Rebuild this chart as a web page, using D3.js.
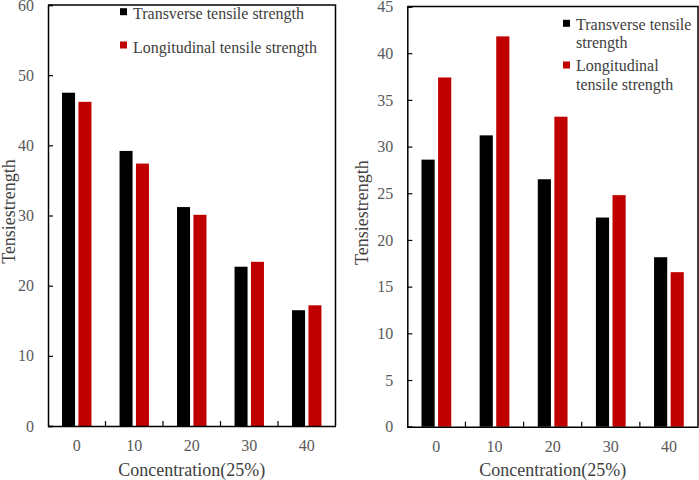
<!DOCTYPE html>
<html>
<head>
<meta charset="utf-8">
<script src="https://cdn.jsdelivr.net/npm/d3@7"></script>
<style>
  html, body { margin: 0; padding: 0; background: #fff; }
  svg { display: block; }
  text { font-family: "Liberation Serif", "Times New Roman", serif; }
</style>
</head>
<body>
<svg id="chart" width="699" height="480"></svg>
<script>
// ---- data ----
const categories = ["0", "10", "20", "30", "40"];
const seriesNames = ["Transverse tensile strength", "Longitudinal tensile strength"];
const leftTransverse = [47.5, 39.2, 31.2, 22.7, 16.5];
const leftLongitudinal = [46.2, 37.4, 30.1, 23.4, 17.2];
const rightTransverse = [28.6, 31.2, 26.5, 22.4, 18.15];
const rightLongitudinal = [37.4, 41.8, 33.2, 24.8, 16.55];
const leftYTicks = [0, 10, 20, 30, 40, 50, 60];
const rightYTicks = [0, 5, 10, 15, 20, 25, 30, 35, 40, 45];
const xTitle = "Concentration(25%)";
const yTitle = "Tensiestrength";

const colors = ["#000000", "#C00000"];
const svg = d3.select("#chart");

function drawPanel(cfg) {
  const g = svg.append("g");
  const x0 = d3.scaleBand().domain(categories).range([cfg.left, cfg.right]).padding(0);
  const x1 = d3.scaleBand().domain(seriesNames).range([0, x0.bandwidth()])
    .paddingInner(0.207).paddingOuter(0.856);
  const y = d3.scaleLinear().domain([0, cfg.yMax]).range([cfg.bottom, cfg.top]);

  const rows = categories.map((c, i) => ({ c, vals: [cfg.s1[i], cfg.s2[i]] }));

  // bars
  const grp = g.selectAll("g.cat").data(rows).join("g")
    .attr("transform", d => `translate(${x0(d.c)},0)`);
  grp.selectAll("rect").data(d => d.vals.map((v, k) => ({ k, v }))).join("rect")
    .attr("x", d => x1(seriesNames[d.k]))
    .attr("width", x1.bandwidth())
    .attr("y", d => y(d.v))
    .attr("height", d => y(0) - y(d.v))
    .attr("fill", d => colors[d.k]);

  // y axis (ticks inside)
  const yAxis = d3.axisLeft(y).tickValues(cfg.yTicks).tickSize(-5).tickPadding(14).tickFormat(d3.format("d"));
  const ya = g.append("g").attr("transform", `translate(${cfg.left},0)`).call(yAxis);
  ya.select(".domain").attr("stroke", "#000").attr("stroke-width", 1.5);
  ya.selectAll(".tick line").attr("stroke", "#000").attr("stroke-width", 1.2);
  ya.selectAll(".tick text").attr("fill", "#595959").style("font-size", "16px")
    .style("font-family", "'Liberation Serif', serif");

  // x axis: labels at category centres
  const xAxis = d3.axisBottom(x0).tickSize(0).tickPadding(14);
  const xa = g.append("g").attr("transform", `translate(0,${cfg.bottom})`).call(xAxis);
  xa.select(".domain").attr("stroke", "#000").attr("stroke-width", 1.5);
  xa.selectAll(".tick text").attr("fill", "#595959").style("font-size", "16px")
    .style("font-family", "'Liberation Serif', serif");

  // x ticks at category boundaries (inside, pointing up)
  g.selectAll("line.xb").data(categories.slice(1)).join("line")
    .attr("x1", d => x0(d)).attr("x2", d => x0(d))
    .attr("y1", cfg.bottom).attr("y2", cfg.bottom - 5)
    .attr("stroke", "#000").attr("stroke-width", 1.2);

  // top and right frame
  g.append("path")
    .attr("d", `M${cfg.left},${cfg.top}H${cfg.right}V${cfg.bottom}`)
    .attr("fill", "none").attr("stroke", "#000").attr("stroke-width", 1.5);

  // axis titles
  g.append("text").attr("x", (cfg.left + cfg.right) / 2).attr("y", 476)
    .attr("text-anchor", "middle").attr("fill", "#404040").style("font-size", "18px")
    .text(xTitle);
  g.append("text")
    .attr("transform", `translate(${cfg.yTitleX},${(cfg.top + cfg.bottom) / 2 - 4}) rotate(-90)`)
    .attr("text-anchor", "middle").attr("fill", "#404040").style("font-size", "18px")
    .text(yTitle);

  // legend
  cfg.legend.forEach((item, k) => {
    g.append("rect").attr("x", cfg.legX).attr("y", item.sq - 3.5)
      .attr("width", 7).attr("height", 7).attr("fill", colors[k]);
    item.lines.forEach((ln, j) => {
      g.append("text").attr("x", cfg.legX + 13).attr("y", item.base[j])
        .attr("fill", "#404040").style("font-size", "16px").text(ln);
    });
  });
}

drawPanel({
  left: 48, right: 335.5, top: 5, bottom: 426, yMax: 60,
  yTicks: leftYTicks, s1: leftTransverse, s2: leftLongitudinal, yTitleX: 15,
  legX: 120,
  legend: [
    { sq: 11.7, lines: [seriesNames[0]], base: [18.5] },
    { sq: 45, lines: [seriesNames[1]], base: [52.5] }
  ]
});

drawPanel({
  left: 407.3, right: 698, top: 6.5, bottom: 426.7, yMax: 45,
  yTicks: rightYTicks, s1: rightTransverse, s2: rightLongitudinal, yTitleX: 368,
  legX: 563,
  legend: [
    { sq: 23.3, lines: ["Transverse tensile", "strength"], base: [29.5, 48] },
    { sq: 65, lines: ["Longitudinal", "tensile strength"], base: [71, 89.5] }
  ]
});
</script>
</body>
</html>
